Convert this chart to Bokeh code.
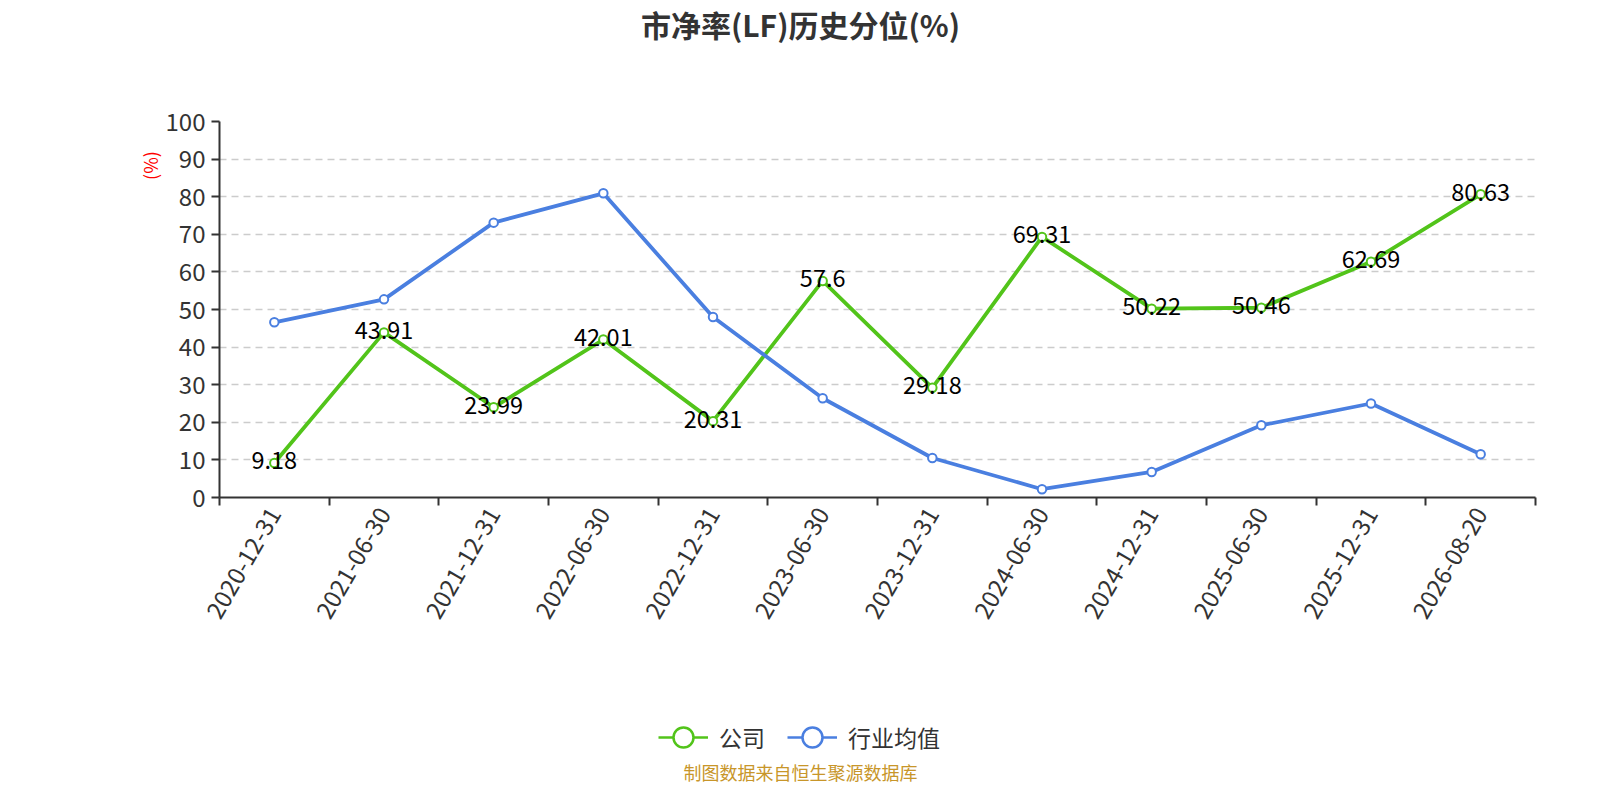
import math
from bokeh.plotting import figure
from bokeh.layouts import column
from bokeh.models import ColumnDataSource, Range1d, FixedTicker, Label, Legend, LegendItem
from bokeh.core.properties import value
from bokeh.embed import file_html
from bokeh.resources import INLINE

categories = ["2020-12-31", "2021-06-30", "2021-12-31", "2022-06-30", "2022-12-31", "2023-06-30",
              "2023-12-31", "2024-06-30", "2024-12-31", "2025-06-30", "2025-12-31", "2026-08-20"]
company = [9.18, 43.91, 23.99, 42.01, 20.31, 57.6, 29.18, 69.31, 50.22, 50.46, 62.69, 80.63]
industry = [46.6, 52.7, 73.1, 80.9, 48.0, 26.4, 10.5, 2.2, 6.8, 19.2, 25.0, 11.5]
y_ticks = list(range(0, 101, 10))
series_names = ["公司", "行业均值"]
title_text = "市净率(LF)历史分位(%)"
unit_text = "(%)"
source_text = "制图数据来自恒生聚源数据库"

FONT = "Noto Sans CJK SC"
GREEN = "#52c41a"
BLUE = "#4a7fe0"
AXIS = "#333333"
W = 1584
FL, FR = 219, 1535          # frame left / right (frames are aligned in the column)
TOP_H, MAIN_H, BOT_H = 96, 604, 84


def blank(h):
    f = figure(width=W, height=h, output_backend="svg", toolbar_location=None,
               x_range=Range1d(FL, FR), y_range=Range1d(0, h), x_axis_type=None, y_axis_type=None,
               min_border_left=FL, min_border_right=W - FR, min_border_top=0, min_border_bottom=0)
    f.outline_line_color = None
    f.background_fill_color = "white"
    f.border_fill_color = "white"
    return f


# ---- title strip
top = blank(TOP_H)
top.add_layout(Label(x=800, y=TOP_H - 23, text=title_text, text_align="center", text_baseline="middle",
                     text_font=FONT, text_font_size="30px", text_font_style="bold", text_color=AXIS))

# ---- main chart
xs = list(range(len(categories)))
src = ColumnDataSource(dict(x=xs, company=company, industry=industry,
                            clabel=[str(v) for v in company]))

p = figure(width=W, height=MAIN_H, output_backend="svg", toolbar_location=None,
           x_range=Range1d(-0.5, len(categories) - 0.5), y_range=Range1d(0, 100),
           min_border_left=FL, min_border_right=W - FR, min_border_top=25, min_border_bottom=203)
p.outline_line_color = None
p.background_fill_color = "white"
p.border_fill_color = "white"

p.xgrid.visible = False
p.yaxis.ticker = FixedTicker(ticks=y_ticks)
p.ygrid.grid_line_color = "#cccccc"
p.ygrid.grid_line_dash = "7 5"
p.ygrid.grid_line_width = 1.5

p.xaxis.ticker = FixedTicker(ticks=xs, minor_ticks=[i - 0.5 for i in range(len(categories) + 1)])
p.xaxis.major_label_overrides = {i: c for i, c in enumerate(categories)}
p.xaxis.major_tick_line_color = None
p.xaxis.major_tick_out = 0
p.xaxis.major_tick_in = 0
p.xaxis.minor_tick_line_color = AXIS
p.xaxis.minor_tick_line_width = 2
p.xaxis.minor_tick_out = 8
p.xaxis.minor_tick_in = 0
p.xaxis.major_label_orientation = math.pi / 3
p.xaxis.major_label_standoff = 4

p.yaxis.minor_tick_line_color = None
p.yaxis.major_tick_out = 8
p.yaxis.major_tick_in = 0
p.yaxis.major_tick_line_width = 2
p.yaxis.major_tick_line_color = AXIS
p.yaxis.major_label_standoff = 6
p.yaxis.axis_label = "\u2003" * 16 + unit_text
p.yaxis.axis_label_text_color = "red"
p.yaxis.axis_label_text_font = FONT
p.yaxis.axis_label_text_font_size = "18px"
p.yaxis.axis_label_text_font_style = "normal"
p.yaxis.axis_label_standoff = 0

for ax in (p.xaxis, p.yaxis):
    ax.axis_line_color = AXIS
    ax.axis_line_width = 2
    ax.major_label_text_font = FONT
    ax.major_label_text_font_size = "24px"
    ax.major_label_text_color = AXIS

p.line("x", "company", source=src, line_color=GREEN, line_width=3.8)
p.line("x", "industry", source=src, line_color=BLUE, line_width=3.8)
p.scatter("x", "company", source=src, size=8.5, fill_color="white", line_color=GREEN, line_width=2)
p.scatter("x", "industry", source=src, size=8.5, fill_color="white", line_color=BLUE, line_width=2)
p.text("x", "company", text="clabel", source=src, text_align="center", text_baseline="middle",
       text_font=value(FONT), text_font_size="23.5px", text_color="black", y_offset=-2)

# ---- legend + source strip
bot = blank(BOT_H)
off = ColumnDataSource(dict(x=[-1e6], y=[-1e6]))
lg_line = bot.line("x", "y", source=off, line_color=GREEN, line_width=2.5)
lg_dot = bot.scatter("x", "y", source=off, fill_color="white", line_color=GREEN, line_width=2.5)
lb_line = bot.line("x", "y", source=off, line_color=BLUE, line_width=2.5)
lb_dot = bot.scatter("x", "y", source=off, fill_color="white", line_color=BLUE, line_width=2.5)
legend = Legend(items=[LegendItem(label=series_names[0], renderers=[lg_line, lg_dot]),
                       LegendItem(label=series_names[1], renderers=[lb_line, lb_dot])],
                orientation="horizontal", location=(658 - FL, 22),
                glyph_width=50, glyph_height=50, label_standoff=11, spacing=22,
                padding=0, margin=0, border_line_color=None, background_fill_alpha=0,
                label_text_font=FONT, label_text_font_size="23px", label_text_color=AXIS)
bot.add_layout(legend, "center")
bot.add_layout(Label(x=800, y=13, text=source_text, text_align="center", text_baseline="middle",
                     text_font=FONT, text_font_size="18px", text_color="#c8962a"))

layout = column(top, p, bot, spacing=0)
open("out.html", "w").write(file_html(layout, INLINE))
